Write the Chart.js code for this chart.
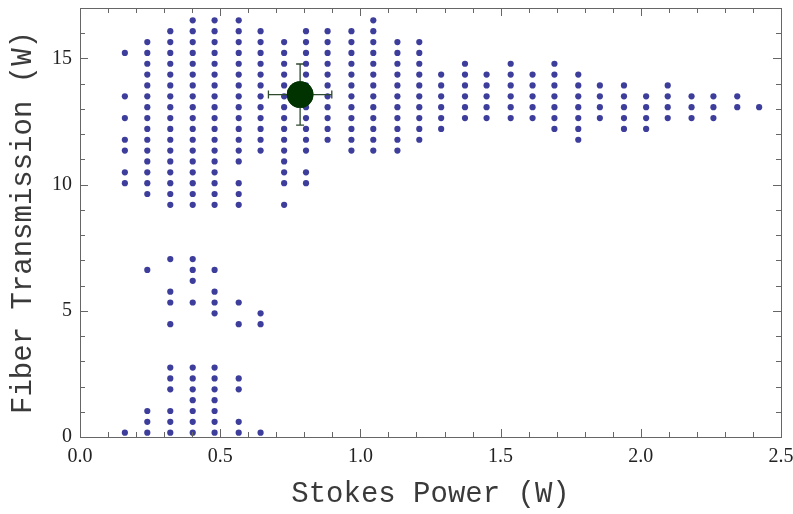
<!DOCTYPE html>
<html>
<head>
<meta charset="utf-8">
<script src="https://cdn.jsdelivr.net/npm/chart.js@4"></script>
<style>
  html, body { margin: 0; padding: 0; background: #fff; }
  #wrap { width: 793px; height: 514px; }
</style>
</head>
<body>
<div id="wrap"><canvas id="chart"></canvas></div>
<script>
// stokes power of each measured column (W)
const stokesPower = [
  0.160, 0.240, 0.322, 0.402, 0.480, 0.566, 0.644, 0.728, 0.806, 0.883,
  0.968, 1.046, 1.132, 1.210, 1.288, 1.373, 1.450, 1.536, 1.614, 1.692,
  1.777, 1.854, 1.940, 2.019, 2.096, 2.181, 2.259, 2.344, 2.422
];

// fiber transmission values found in each column (W)
const transmission = [
  [0.17, 10.06, 10.49, 11.35, 11.78, 12.64, 13.50, 15.22],
  [0.17, 0.60, 1.03, 6.62, 9.63, 10.06, 10.49, 10.92, 11.35, 11.78, 12.21, 12.64, 13.07, 13.50, 13.93, 14.36, 14.79, 15.22, 15.65],
  [0.17, 0.60, 1.03, 1.89, 2.32, 2.75, 4.47, 5.33, 5.76, 7.05, 9.20, 9.63, 10.06, 10.49, 10.92, 11.35, 11.78, 12.21, 12.64, 13.07, 13.50, 13.93, 14.36, 14.79, 15.22, 15.65, 16.08],
  [0.17, 0.60, 1.03, 1.46, 1.89, 2.32, 2.75, 5.33, 6.19, 6.62, 7.05, 9.20, 9.63, 10.06, 10.49, 10.92, 11.35, 11.78, 12.21, 12.64, 13.07, 13.50, 13.93, 14.36, 14.79, 15.22, 15.65, 16.08, 16.51],
  [0.17, 0.60, 1.03, 1.46, 1.89, 2.32, 2.75, 4.90, 5.33, 5.76, 6.62, 9.20, 9.63, 10.06, 10.49, 10.92, 11.35, 11.78, 12.21, 12.64, 13.07, 13.50, 13.93, 14.36, 14.79, 15.22, 15.65, 16.08, 16.51],
  [0.17, 0.60, 1.89, 2.32, 4.47, 5.33, 9.20, 9.63, 10.06, 10.92, 11.35, 11.78, 12.21, 12.64, 13.07, 13.50, 13.93, 14.36, 14.79, 15.22, 15.65, 16.08, 16.51],
  [0.17, 4.47, 4.90, 11.35, 11.78, 12.21, 12.64, 13.07, 13.50, 13.93, 14.36, 14.79, 15.22, 15.65, 16.08],
  [9.20, 10.06, 10.49, 10.92, 11.35, 11.78, 12.21, 12.64, 13.07, 13.50, 13.93, 14.36, 14.79, 15.22, 15.65],
  [10.06, 10.49, 11.35, 11.78, 12.21, 12.64, 13.07, 13.50, 13.93, 14.36, 14.79, 15.22, 15.65, 16.08],
  [11.78, 12.21, 12.64, 13.07, 13.50, 13.93, 14.36, 14.79, 15.22, 15.65, 16.08],
  [11.35, 11.78, 12.21, 12.64, 13.07, 13.50, 13.93, 14.36, 14.79, 15.22, 15.65, 16.08],
  [11.35, 11.78, 12.21, 12.64, 13.07, 13.50, 13.93, 14.36, 14.79, 15.22, 15.65, 16.08, 16.51],
  [11.35, 11.78, 12.21, 12.64, 13.07, 13.50, 13.93, 14.36, 14.79, 15.22, 15.65],
  [11.78, 12.21, 12.64, 13.07, 13.50, 13.93, 14.36, 14.79, 15.22, 15.65],
  [12.21, 12.64, 13.07, 13.50, 13.93, 14.36],
  [12.64, 13.07, 13.50, 13.93, 14.36, 14.79],
  [12.64, 13.07, 13.50, 13.93, 14.36],
  [12.64, 13.07, 13.50, 13.93, 14.36, 14.79],
  [12.64, 13.07, 13.50, 13.93, 14.36],
  [12.21, 12.64, 13.07, 13.50, 13.93, 14.36, 14.79],
  [11.78, 12.21, 12.64, 13.07, 13.50, 13.93, 14.36],
  [12.64, 13.07, 13.50, 13.93],
  [12.21, 12.64, 13.07, 13.50, 13.93],
  [12.21, 12.64, 13.07, 13.50],
  [12.64, 13.07, 13.50, 13.93],
  [12.64, 13.07, 13.50],
  [12.64, 13.07, 13.50],
  [13.07, 13.50],
  [13.07]
];

// mean operating point with its spread
const meanPoint = { x: 0.785, y: 13.57 };
const meanError = { x: 0.113, y: 1.21 };

const xTickLabels = [0, 0.5, 1, 1.5, 2, 2.5];
const yTickLabels = [0, 5, 10, 15];

const dotColor = "#3d3d9b";
const meanColor = "#003300";
const frameColor = "#666";

const points = [];
stokesPower.forEach((x, i) => {
  transmission[i].forEach((y) => points.push({ x, y }));
});

// frame with inward major/minor ticks on all four sides
const frameTicks = {
  id: "frameTicks",
  afterDraw(chart) {
    const { ctx, chartArea: a, scales } = chart;
    const xs = scales.x;
    const ys = scales.y;
    ctx.save();
    ctx.strokeStyle = frameColor;
    ctx.lineWidth = 1;
    ctx.strokeRect(Math.round(a.left) + 0.5, Math.round(a.top) + 0.5,
      Math.round(a.right - a.left), Math.round(a.bottom - a.top));
    ctx.beginPath();
    for (let i = 0; i <= 25; i++) {
      const px = Math.round(xs.getPixelForValue(i / 10)) + 0.5;
      const len = i % 5 === 0 ? 8 : 5;
      ctx.moveTo(px, a.bottom);
      ctx.lineTo(px, a.bottom - len);
      ctx.moveTo(px, a.top);
      ctx.lineTo(px, a.top + len);
    }
    for (let v = 0; v <= 17; v++) {
      const py = Math.round(ys.getPixelForValue(v)) + 0.5;
      const len = v % 5 === 0 ? 8 : 5;
      ctx.moveTo(a.left, py);
      ctx.lineTo(a.left + len, py);
      ctx.moveTo(a.right, py);
      ctx.lineTo(a.right - len, py);
    }
    ctx.stroke();
    ctx.restore();
  },
};

// error bars around the mean point
const errorBars = {
  id: "errorBars",
  afterDatasetsDraw(chart) {
    const { ctx, scales } = chart;
    const cx = scales.x.getPixelForValue(meanPoint.x);
    const cy = scales.y.getPixelForValue(meanPoint.y);
    const x0 = scales.x.getPixelForValue(meanPoint.x - meanError.x);
    const x1 = scales.x.getPixelForValue(meanPoint.x + meanError.x);
    const y0 = scales.y.getPixelForValue(meanPoint.y + meanError.y);
    const y1 = scales.y.getPixelForValue(meanPoint.y - meanError.y);
    const cap = 4;
    ctx.save();
    ctx.strokeStyle = "#2d4a2d";
    ctx.lineWidth = 1.3;
    ctx.beginPath();
    ctx.moveTo(x0, cy); ctx.lineTo(x1, cy);
    ctx.moveTo(x0, cy - cap); ctx.lineTo(x0, cy + cap);
    ctx.moveTo(x1, cy - cap); ctx.lineTo(x1, cy + cap);
    ctx.moveTo(cx, y0); ctx.lineTo(cx, y1);
    ctx.moveTo(cx - cap, y0); ctx.lineTo(cx + cap, y0);
    ctx.moveTo(cx - cap, y1); ctx.lineTo(cx + cap, y1);
    ctx.stroke();
    ctx.beginPath();
    ctx.arc(cx, cy, 13.3, 0, Math.PI * 2);
    ctx.fillStyle = meanColor;
    ctx.fill();
    ctx.restore();
  },
};

new Chart(document.getElementById("chart").getContext("2d"), {
  type: "scatter",
  data: {
    datasets: [
      {
        label: "mean",
        data: [meanPoint],
        pointRadius: 13.3,
        pointBackgroundColor: meanColor,
        pointBorderWidth: 0,
      },
      {
        label: "samples",
        data: points,
        pointRadius: 3.1,
        pointBackgroundColor: dotColor,
        pointBorderWidth: 0,
      },
    ],
  },
  options: {
    responsive: true,
    maintainAspectRatio: false,
    animation: false,
    events: [],
    layout: { autoPadding: false, padding: { top: 8, right: 12, left: 0, bottom: 0 } },
    plugins: {
      legend: { display: false },
      tooltip: { enabled: false },
    },
    scales: {
      x: {
        type: "linear",
        min: 0,
        max: 2.5,
        afterFit(scale) {
          scale.height = 77;
          scale.paddingLeft = 0;
          scale.paddingRight = 0;
        },
        afterBuildTicks(scale) { scale.ticks = xTickLabels.map((value) => ({ value })); },
        grid: { display: false, drawTicks: false },
        border: { display: false },
        ticks: {
          padding: 8,
          color: "#222",
          font: { family: "'Liberation Serif', 'Times New Roman', serif", size: 20 },
          callback: (v) => v.toFixed(1),
          maxRotation: 0,
        },
        title: {
          display: true,
          text: "Stokes Power (W)",
          color: "#3a3a3a",
          padding: { top: 0, bottom: 2 },
          font: { family: "'Liberation Mono', 'Courier New', monospace", size: 29, weight: "normal" },
        },
      },
      y: {
        type: "linear",
        min: 0,
        max: 17,
        afterFit(scale) {
          scale.width = 80;
          scale.paddingTop = 0;
          scale.paddingBottom = 0;
        },
        afterBuildTicks(scale) { scale.ticks = yTickLabels.map((value) => ({ value })); },
        grid: { display: false, drawTicks: false },
        border: { display: false },
        ticks: {
          padding: 8,
          color: "#222",
          font: { family: "'Liberation Serif', 'Times New Roman', serif", size: 20 },
        },
        title: {
          display: true,
          text: "Fiber Transmission (W)",
          color: "#3a3a3a",
          padding: { top: 6, bottom: 0 },
          font: { family: "'Liberation Mono', 'Courier New', monospace", size: 29, weight: "normal" },
        },
      },
    },
  },
  plugins: [frameTicks, errorBars],
});
</script>
</body>
</html>
